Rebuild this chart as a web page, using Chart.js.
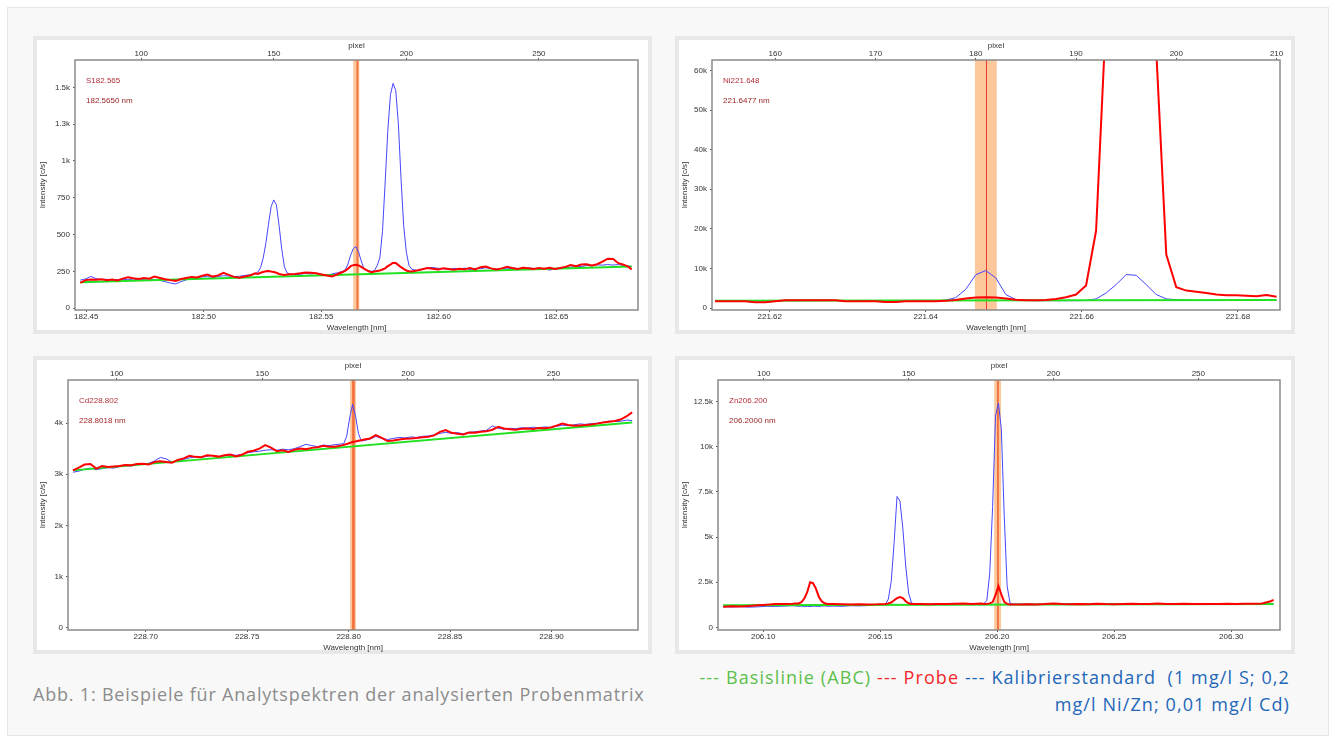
<!DOCTYPE html>
<html>
<head>
<meta charset="utf-8">
<script src="https://cdn.jsdelivr.net/npm/chart.js@4.4.1/dist/chart.umd.min.js"></script>
<style>
  html, body { margin: 0; padding: 0; background: #fff; }
  body { width: 1335px; height: 742px; position: relative; overflow: hidden; font-family: 'Open Sans', sans-serif; }
  #fig { position: absolute; left: 7px; top: 7px; width: 1320px; height: 727px; background: #f8f8f8; border: 1px solid #e6e6e6; }
  .panel { position: absolute; background: #e8e8e8; }
  .panel .inner { position: absolute; left: 4px; top: 4px; right: 4px; bottom: 4px; background: #fff; }
  .panel canvas { position: absolute; left: 0; top: 0; }
  #cap { position: absolute; left: 33px; top: 682px; font-size: 18px; line-height: 24px; letter-spacing: 0.8px; color: #8c8c8c; white-space: nowrap; }
  #leg { position: absolute; right: 45px; top: 664px; font-size: 18px; line-height: 27px; letter-spacing: 1.1px; text-align: right; white-space: nowrap; }
  #leg .g { color: #5cbf4a; }
  #leg .r { color: #f02828; }
  #leg .b { color: #2266b8; }
</style>
</head>
<body>
<div id="fig"></div>
<div class="panel" style="left:33px;top:36px;width:619px;height:298px"><div class="inner"></div><canvas id="c1" width="619" height="298"></canvas></div>
<div class="panel" style="left:675px;top:36px;width:620px;height:298px"><div class="inner"></div><canvas id="c2" width="620" height="298"></canvas></div>
<div class="panel" style="left:33px;top:356px;width:619px;height:298px"><div class="inner"></div><canvas id="c3" width="619" height="298"></canvas></div>
<div class="panel" style="left:675px;top:356px;width:620px;height:298px"><div class="inner"></div><canvas id="c4" width="620" height="298"></canvas></div>
<div id="cap">Abb. 1: Beispiele für Analytspektren der analysierten Probenmatrix</div>
<div id="leg"><span class="g">--- Basislinie (ABC)</span> <span class="r">--- Probe</span> <span class="b">--- Kalibrierstandard&nbsp; (1 mg/l S; 0,2<br>mg/l Ni/Zn; 0,01 mg/l Cd)</span></div>

<script>
// --- S 182.565 (oben links) ---
const S_PX = [77,79,81,83,85,87,89,91,93,95,97,99,101,103,105,107,109,111,113,115,117,119,121,123,125,127,129,131,133,135,137,139,141,143,
  144,145,146,147,148,149,150,151,152,153,154,155,156,
  158,160,162,164,166,168,170,172,174,176,
  177,178,179,180,181,182,183,184,185,186,187,188,189,190,191,192,193,194,195,196,197,198,199,200,201,202,
  204,206,208,210,212,214,216,218,220,222,224,226,228,230,232,234,236,238,240,242,244,246,248,250,252,254,256,258,260,262,264,266,268,270,272,274,276,278,280,282,284,
  285];
const S_PROBE = [172,190,195,192,196,190,194,188,200,210,203,198,205,200,214,205,196,190,185,198,205,212,208,220,228,214,222,240,226,212,207,214,222,236,
  232,240,245,250,252,248,245,240,232,228,225,228,230,
  232,236,242,240,236,228,222,215,230,245,
  255,268,285,292,294,290,280,268,258,248,244,248,252,256,262,270,285,296,308,306,292,278,266,255,250,248,
  256,264,272,268,262,270,266,260,268,264,272,262,278,282,270,262,270,280,272,266,274,270,266,272,268,274,266,272,280,292,284,296,298,290,298,316,336,334,305,295,278,
  262];
const S_KALIB = [190,198,215,200,194,196,190,193,196,192,198,190,196,200,192,188,180,170,164,180,192,200,206,212,214,208,215,220,218,214,216,222,226,232,
  245,275,340,440,570,690,735,700,560,400,280,240,232,
  225,230,236,232,236,230,225,232,240,250,
  262,300,360,405,418,380,320,268,255,252,250,255,290,340,520,850,1200,1450,1527,1480,1250,880,560,380,290,265,
  255,262,274,276,270,268,264,270,266,272,262,270,268,274,268,264,270,266,272,268,265,272,270,262,268,258,266,270,275,278,284,282,290,286,294,292,296,292,296,290,285,
  282];
const S_BASE_PX = [77, 285];
const S_BASE = [176, 283];
const S_PX_RANGE = [75.0, 287.4];
const S_NM_RANGE = [182.4452, 182.6848];
const S_Y_RANGE = [-13, 1686];
const S_PX_TICKS = [100, 150, 200, 250];
const S_NM_TICKS = [182.45, 182.50, 182.55, 182.60, 182.65];
const S_NM_LABELS = ['182.45', '182.50', '182.55', '182.60', '182.65'];
const S_Y_TICKS = [0, 250, 500, 750, 1000, 1250, 1500];
const S_Y_LABELS = ['0', '250', '500', '750', '1k', '1.3k', '1.5k'];
const S_BAND = [182.5636, 182.5662];
const S_CORE = [182.5650, 182.5658];
const S_TEXT = ['S182.565', '182.5650 nm'];

// --- Ni 221.648 (oben rechts) ---
const NI_PX = [154,155,156,157,158,159,160,161,162,163,164,165,166,167,168,169,170,171,172,173,174,175,176,177,178,179,180,181,182,183,184,185,186,187,188,189,190,191,192,193,194,195,196,197,198,199,200,201,202,203,204,205,206,207,208,209,210];
const NI_PROBE = [1700,1700,1690,1680,1450,1430,1700,1950,1940,1950,1940,1950,1940,1700,1700,1690,1700,1520,1520,1700,1700,1700,1720,1800,2050,2400,2650,2700,2650,2400,2100,1950,1950,2000,2300,2700,3400,5700,19500,74000,160000,210000,190000,120000,65000,13500,5230,4400,4100,3800,3400,3200,3200,3100,2950,3300,2850];
const NI_KALIB = [1700,1700,1700,1690,1420,1400,1690,1960,1950,1960,1950,1960,1950,1690,1700,1700,1700,1500,1500,1690,1700,1720,1800,2000,2600,4700,8400,9450,7600,3400,2100,1900,1850,1850,1850,1850,1850,1900,2300,3800,5900,8450,8250,5900,3400,2300,2100,2000,1900,1900,1900,1900,1900,1900,1900,1900,1900];
const NI_BASE_PX = [154, 210];
const NI_BASE = [1800, 2000];
const NI_PX_RANGE = [153.7, 210.34];
const NI_NM_RANGE = [221.6126, 221.6854];
const NI_Y_RANGE = [-505, 62630];
const NI_PX_TICKS = [160, 170, 180, 190, 200, 210];
const NI_NM_TICKS = [221.62, 221.64, 221.66, 221.68];
const NI_NM_LABELS = ['221.62', '221.64', '221.66', '221.68'];
const NI_Y_TICKS = [0, 10000, 20000, 30000, 40000, 50000, 60000];
const NI_Y_LABELS = ['0', '10k', '20k', '30k', '40k', '50k', '60k'];
const NI_BAND = [221.6463, 221.6491];
const NI_LINE = 221.6477;
const NI_TEXT = ['Ni221.648', '221.6477 nm'];

// --- Cd 228.802 (unten links) ---
const CD_PX = [85,87,89,91,93,95,97,99,101,103,105,107,109,111,113,115,117,119,121,123,125,127,129,131,133,135,137,139,141,143,145,147,149,151,153,155,157,159,161,163,165,167,169,171,173,175,177,
  178,179,180,181,182,183,184,185,
  187,189,191,193,195,197,199,201,203,205,207,209,211,213,215,217,219,221,223,225,227,229,231,233,235,237,239,241,243,245,247,249,251,253,255,257,259,261,263,265,267,269,271,273,275,277];
const CD_PROBE = [3075,3130,3190,3200,3110,3160,3140,3150,3160,3180,3175,3200,3205,3190,3240,3255,3240,3225,3280,3310,3360,3340,3335,3372,3360,3345,3370,3386,3350,3380,3440,3460,3500,3569,3520,3451,3470,3438,3480,3503,3490,3516,3530,3555,3540,3536,3560,
  3575,3590,3610,3630,3640,3655,3667,3680,
  3700,3765,3712,3650,3660,3680,3695,3700,3710,3725,3732,3760,3830,3863,3810,3790,3778,3817,3810,3830,3843,3870,3928,3895,3882,3870,3890,3895,3885,3905,3900,3915,3950,3993,3965,3948,3955,3961,3975,3990,4010,4026,4040,4070,4130,4209];
const CD_KALIB = [3040,3060,3100,3120,3090,3110,3130,3120,3150,3170,3160,3190,3200,3215,3260,3330,3300,3240,3260,3290,3320,3340,3330,3350,3370,3345,3360,3380,3370,3390,3420,3440,3450,3470,3480,3470,3490,3480,3500,3540,3585,3560,3540,3570,3560,3580,3590,
  3600,3750,4100,4370,4150,3800,3650,3660,
  3690,3740,3700,3680,3700,3720,3710,3730,3720,3740,3750,3770,3800,3820,3800,3815,3790,3820,3830,3845,3860,3945,3900,3880,3900,3890,3910,3905,3920,3910,3925,3915,3935,3960,3950,3965,3985,3975,3990,4000,4015,4040,4030,4035,4060,4050];
const CD_BASE_PX = [85, 277];
const CD_BASE = [3076, 4012];
const CD_PX_RANGE = [83.3, 279.0];
const CD_NM_RANGE = [228.6617, 228.9426];
const CD_Y_RANGE = [-45, 4843];
const CD_PX_TICKS = [100, 150, 200, 250];
const CD_NM_TICKS = [228.70, 228.75, 228.80, 228.85, 228.90];
const CD_NM_LABELS = ['228.70', '228.75', '228.80', '228.85', '228.90'];
const CD_Y_TICKS = [0, 1000, 2000, 3000, 4000];
const CD_Y_LABELS = ['0', '1k', '2k', '3k', '4k'];
const CD_BAND = [228.8007, 228.8036];
const CD_CORE = [228.8017, 228.8030];
const CD_TEXT = ['Cd228.802', '228.8018 nm'];

// --- Zn 206.200 (unten rechts) ---
const ZN_PX = [86,89,92,95,98,101,104,107,110,
  111,112,113,114,115,116,117,118,119,120,121,122,
  124,127,130,133,136,139,
  142,143,144,145,146,147,148,149,150,151,152,
  154,157,160,163,166,169,172,175,
  176,177,178,179,180,181,182,183,184,185,186,
  188,191,194,197,200,203,206,209,212,215,218,221,224,227,230,233,236,239,242,245,248,251,254,257,260,263,266,269,272,275,
  276];
const ZN_PROBE = [1150,1170,1160,1190,1220,1250,1290,1300,1310,
  1330,1330,1400,1600,1950,2500,2450,2150,1700,1450,1340,1300,
  1290,1280,1270,1285,1275,1280,
  1300,1330,1380,1500,1620,1680,1620,1450,1340,1300,1290,
  1290,1285,1300,1290,1310,1320,1300,1320,
  1300,1310,1330,1400,1780,2300,1830,1420,1300,1270,1270,
  1270,1280,1275,1290,1320,1290,1280,1300,1280,1310,1290,1285,1295,1310,1290,1300,1320,1290,1300,1310,1290,1300,1295,1300,1310,1300,1305,1310,1330,1450,
  1530];
const ZN_KALIB = [1140,1130,1150,1120,1140,1170,1160,1180,1200,
  1190,1170,1180,1160,1170,1150,1180,1170,1160,1180,1190,1170,
  1180,1170,1200,1190,1210,1230,
  1280,1570,2550,4700,7250,7000,5500,3400,1900,1350,1310,
  1310,1290,1300,1280,1300,1290,1310,1300,
  1320,1500,3000,6700,11700,12420,11000,6200,2300,1350,1300,
  1290,1300,1280,1300,1290,1300,1320,1280,1300,1290,1300,1320,1280,1300,1290,1320,1300,1280,1310,1290,1300,1280,1300,1290,1310,1300,1290,1300,1310,1300,
  1290];
const ZN_BASE_PX = [86, 276];
const ZN_BASE = [1220, 1290];
const ZN_PX_RANGE = [84.2, 278.2];
const ZN_NM_RANGE = [206.0807, 206.3208];
const ZN_Y_RANGE = [-144, 13700];
const ZN_PX_TICKS = [100, 150, 200, 250];
const ZN_NM_TICKS = [206.10, 206.15, 206.20, 206.25, 206.30];
const ZN_NM_LABELS = ['206.10', '206.15', '206.20', '206.25', '206.30'];
const ZN_Y_TICKS = [0, 2500, 5000, 7500, 10000, 12500];
const ZN_Y_LABELS = ['0', '2.5k', '5k', '7.5k', '10k', '12.5k'];
const ZN_BAND = [206.1987, 206.2016];
const ZN_CORE = [206.1999, 206.2007];
const ZN_TEXT = ['Zn206.200', '206.2000 nm'];

Chart.defaults.font.family = "'Liberation Sans', Arial, sans-serif";
Chart.defaults.font.size = 8;
Chart.defaults.color = '#333';

const FONT = { size: 8, lineHeight: 1 };

// Messfenster (Band), Rahmen und Linienbeschriftung
const overlay = {
  id: 'overlay',
  beforeDatasetsDraw(chart, args, o) {
    const { ctx, chartArea: a, scales: { x } } = chart;
    ctx.save();
    const b0 = x.getPixelForValue(o.band[0]);
    const b1 = x.getPixelForValue(o.band[1]);
    ctx.fillStyle = '#fdc79c';
    ctx.fillRect(b0, a.top, b1 - b0, a.bottom - a.top);
    if (o.core) {
      const c0 = x.getPixelForValue(o.core[0]);
      const c1 = x.getPixelForValue(o.core[1]);
      ctx.fillStyle = '#f2713f';
      ctx.fillRect(c0, a.top, c1 - c0, a.bottom - a.top);
    }
    if (o.line != null) {
      const lx = Math.round(x.getPixelForValue(o.line)) + 0.5;
      ctx.strokeStyle = '#ee3a30';
      ctx.lineWidth = 1;
      ctx.beginPath();
      ctx.moveTo(lx, a.top);
      ctx.lineTo(lx, a.bottom);
      ctx.stroke();
    }
    ctx.restore();
  },
  afterDatasetsDraw(chart, args, o) {
    const { ctx, chartArea: a } = chart;
    ctx.save();
    ctx.strokeStyle = '#8a8a8a';
    ctx.lineWidth = 1.5;
    ctx.strokeRect(a.left, a.top, a.right - a.left, a.bottom - a.top);
    ctx.font = "8px 'Liberation Sans', Arial, sans-serif";
    ctx.textBaseline = 'middle';
    ctx.fillStyle = '#b3303a';
    ctx.fillText(o.text[0], a.left + 11, a.top + 21);
    ctx.fillStyle = '#9a1e1e';
    ctx.fillText(o.text[1], a.left + 11, a.top + 41);
    ctx.restore();
  }
};

function zeroPad(s) {
  s.paddingLeft = 0; s.paddingRight = 0; s.paddingTop = 0; s.paddingBottom = 0;
}

const pts = (xs, ys) => xs.map((x, i) => ({ x, y: ys[i] }));

function spectrum(id, p) {
  const tickGrid = { drawOnChartArea: false, drawTicks: true, tickLength: 2, color: '#555' };
  return new Chart(document.getElementById(id), {
    type: 'line',
    data: {
      datasets: [
        { label: 'Probe', data: pts(p.px, p.probe), borderColor: '#ff0000', borderWidth: 2, xAxisID: 'px', yAxisID: 'y' },
        { label: 'Basislinie', data: pts(p.basePx, p.base), borderColor: '#22e022', borderWidth: 2, xAxisID: 'px', yAxisID: 'y' },
        { label: 'Kalibrierstandard', data: pts(p.px, p.kalib), borderColor: '#4646ff', borderWidth: 1, xAxisID: 'px', yAxisID: 'y' },
      ],
    },
    options: {
      responsive: false,
      animation: false,
      devicePixelRatio: 1,
      events: [],
      layout: { padding: { left: 0, right: p.padRight, top: 0, bottom: 0 } },
      elements: { point: { radius: 0 }, line: { tension: 0 } },
      plugins: {
        legend: { display: false },
        tooltip: { enabled: false },
        overlay: { band: p.band, core: p.core, line: p.line, text: p.text },
      },
      scales: {
        px: {
          type: 'linear', position: 'top', min: p.pxRange[0], max: p.pxRange[1],
          afterBuildTicks: s => { s.ticks = p.pxTicks.map(v => ({ value: v })); },
          ticks: { font: FONT, padding: 0, autoSkip: false, maxRotation: 0, callback: v => String(v) },
          grid: tickGrid, border: { display: false },
          title: { display: true, text: 'pixel', font: FONT, padding: { top: 6, bottom: 0 } },
          afterFit: s => { s.height = 24; zeroPad(s); },
        },
        x: {
          type: 'linear', position: 'bottom', min: p.nmRange[0], max: p.nmRange[1],
          afterBuildTicks: s => { s.ticks = p.nmTicks.map(v => ({ value: v })); },
          ticks: { font: FONT, padding: 1, autoSkip: false, maxRotation: 0, callback: (v, i) => p.nmLabels[i] },
          grid: tickGrid, border: { display: false },
          title: { display: true, text: 'Wavelength [nm]', font: FONT, padding: { top: 0, bottom: 2 } },
          afterFit: s => { s.height = 24; zeroPad(s); },
        },
        y: {
          type: 'linear', position: 'left', min: p.yRange[0], max: p.yRange[1],
          afterBuildTicks: s => { s.ticks = p.yTicks.map(v => ({ value: v })); },
          ticks: { font: FONT, padding: 3, autoSkip: false, callback: (v, i) => p.yLabels[i] },
          grid: tickGrid, border: { display: false },
          title: { display: true, text: 'Intensity [c/s]', font: FONT, padding: { top: 6, bottom: 0 } },
          afterFit: s => { s.width = p.axisWidth; zeroPad(s); },
        },
      },
    },
    plugins: [overlay],
  });
}

spectrum('c1', {
  px: S_PX, probe: S_PROBE, kalib: S_KALIB, basePx: S_BASE_PX, base: S_BASE,
  pxRange: S_PX_RANGE, nmRange: S_NM_RANGE, yRange: S_Y_RANGE,
  pxTicks: S_PX_TICKS, nmTicks: S_NM_TICKS, nmLabels: S_NM_LABELS, yTicks: S_Y_TICKS, yLabels: S_Y_LABELS,
  band: S_BAND, core: S_CORE, line: null, text: S_TEXT, axisWidth: 42, padRight: 14,
});
spectrum('c2', {
  px: NI_PX, probe: NI_PROBE, kalib: NI_KALIB, basePx: NI_BASE_PX, base: NI_BASE,
  pxRange: NI_PX_RANGE, nmRange: NI_NM_RANGE, yRange: NI_Y_RANGE,
  pxTicks: NI_PX_TICKS, nmTicks: NI_NM_TICKS, nmLabels: NI_NM_LABELS, yTicks: NI_Y_TICKS, yLabels: NI_Y_LABELS,
  band: NI_BAND, core: null, line: NI_LINE, text: NI_TEXT, axisWidth: 37, padRight: 15,
});
spectrum('c3', {
  px: CD_PX, probe: CD_PROBE, kalib: CD_KALIB, basePx: CD_BASE_PX, base: CD_BASE,
  pxRange: CD_PX_RANGE, nmRange: CD_NM_RANGE, yRange: CD_Y_RANGE,
  pxTicks: CD_PX_TICKS, nmTicks: CD_NM_TICKS, nmLabels: CD_NM_LABELS, yTicks: CD_Y_TICKS, yLabels: CD_Y_LABELS,
  band: CD_BAND, core: CD_CORE, line: null, text: CD_TEXT, axisWidth: 35, padRight: 14,
});
spectrum('c4', {
  px: ZN_PX, probe: ZN_PROBE, kalib: ZN_KALIB, basePx: ZN_BASE_PX, base: ZN_BASE,
  pxRange: ZN_PX_RANGE, nmRange: ZN_NM_RANGE, yRange: ZN_Y_RANGE,
  pxTicks: ZN_PX_TICKS, nmTicks: ZN_NM_TICKS, nmLabels: ZN_NM_LABELS, yTicks: ZN_Y_TICKS, yLabels: ZN_Y_LABELS,
  band: ZN_BAND, core: ZN_CORE, line: null, text: ZN_TEXT, axisWidth: 43, padRight: 15,
});
</script>
</body>
</html>
